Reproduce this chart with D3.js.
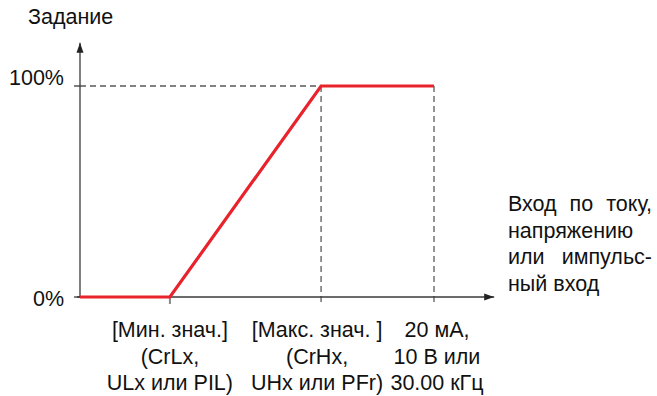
<!DOCTYPE html>
<html><head><meta charset="utf-8">
<script src="https://cdn.jsdelivr.net/npm/d3@7"></script>
<style>body{margin:0;background:#fff}svg{display:block;font-family:"Liberation Sans",Arial,sans-serif}</style>
</head><body>
<svg id="c" width="657" height="396"></svg>
<script>
// Data
const inputX = [0, 25.4, 68.1, 100];       // input, % of full scale
const outputY = [0, 0, 100, 100];          // reference, %
const yTickValues = [0, 100];
const yTickLabels = ["0%", "100%"];
const xTickValues = [25.4, 68.1, 100];
const xTickLabels = [
  ["[Мин. знач.]", "(CrLx,", "ULx или PIL)"],
  ["[Макс. знач. ]", "(CrHx,", "UHx или PFr)"],
  ["20 мА,", "10 В или", "30.00 кГц"]
];
const yTitle = "Задание";
const xTitleLines = ["Вход по току,", "напряжению", "или импульс-", "ный вход"];

const svg = d3.select("#c");
const x = d3.scaleLinear().domain([0, 100]).range([80, 434]);
const y = d3.scaleLinear().domain([0, 100]).range([297, 86]);
const xMax = 117, yMax = 120.5;
const axisCol = "#3a3a3a", dashCol = "#5a5a5a", red = "#e8232b";
const fs = 21.5;
const labelShift = [0, -4, 3];

// dashed guides
const g = svg.append("g");
g.append("line").attr("x1", x(0)).attr("x2", x(100)).attr("y1", y(100)).attr("y2", y(100))
  .attr("stroke", dashCol).attr("stroke-width", 1.3).attr("stroke-dasharray", "6,4");
[68.1, 100].forEach(v => {
  g.append("line").attr("x1", x(v)).attr("x2", x(v)).attr("y1", y(100)).attr("y2", y(0) + 6)
    .attr("stroke", dashCol).attr("stroke-width", 1.3).attr("stroke-dasharray", "6,4");
});
// small tick at min
g.append("line").attr("x1", x(25.4)).attr("x2", x(25.4)).attr("y1", y(0)).attr("y2", y(0) + 7)
  .attr("stroke", "#888").attr("stroke-width", 2);

// axes
svg.append("defs").append("marker").attr("id", "arr").attr("viewBox", "0 0 10 10")
  .attr("refX", 10).attr("refY", 5).attr("markerWidth", 10).attr("markerHeight", 10)
  .attr("markerUnits", "userSpaceOnUse").attr("orient", "auto")
  .append("path").attr("d", "M0,1.5 L10,5 L0,8.5 Z").attr("fill", "#222");
svg.append("line").attr("x1", x(0) - 3).attr("x2", x(xMax)).attr("y1", y(0)).attr("y2", y(0))
  .attr("stroke", axisCol).attr("stroke-width", 1.3).attr("marker-end", "url(#arr)");
svg.append("line").attr("x1", x(0)).attr("x2", x(0)).attr("y1", y(0)).attr("y2", y(yMax))
  .attr("stroke", axisCol).attr("stroke-width", 1.3).attr("marker-end", "url(#arr)");
// y tick marks
yTickValues.forEach(v => {
  svg.append("line").attr("x1", x(0) - 6).attr("x2", x(0)).attr("y1", y(v)).attr("y2", y(v))
    .attr("stroke", axisCol).attr("stroke-width", 1.3);
});

// red curve
const line = d3.line().x((d, i) => x(inputX[i])).y((d, i) => y(outputY[i]));
svg.append("path").attr("d", line(inputX)).attr("fill", "none").attr("stroke", red)
  .attr("stroke-width", 3.2).attr("stroke-linejoin", "miter");

// y labels
const yLabelBase = [306, 85];
yTickValues.forEach((v, i) => {
  svg.append("text").attr("x", 64).attr("y", yLabelBase[i]).attr("text-anchor", "end")
    .attr("font-size", fs).attr("fill", "#111").text(yTickLabels[i]);
});
svg.append("text").attr("x", 28).attr("y", 24).attr("font-size", fs).attr("fill", "#111").text(yTitle);

// x labels
xTickValues.forEach((v, i) => {
  xTickLabels[i].forEach((t, j) => {
    svg.append("text").attr("x", x(v) + labelShift[i]).attr("y", 337 + j * 26.5).attr("text-anchor", "middle")
      .attr("font-size", fs).attr("fill", "#111").text(t);
  });
});

// right justified block
const bx0 = 508, bx1 = 652;
xTitleLines.forEach((ln, j) => {
  const yy = 211 + j * 26.5;
  const words = ln.split(" ");
  const last = j === xTitleLines.length - 1;
  if (words.length === 1 || last) {
    svg.append("text").attr("x", bx0).attr("y", yy).attr("font-size", fs).attr("fill", "#111").text(ln);
    return;
  }
  const nodes = words.map(w => svg.append("text").attr("y", yy).attr("font-size", fs).attr("fill", "#111").text(w));
  const widths = nodes.map(n => n.node().getComputedTextLength());
  const total = d3.sum(widths);
  const gap = (bx1 - bx0 - total) / (words.length - 1);
  let cx = bx0;
  nodes.forEach((n, k) => { n.attr("x", cx); cx += widths[k] + gap; });
});
</script>
</body></html>
